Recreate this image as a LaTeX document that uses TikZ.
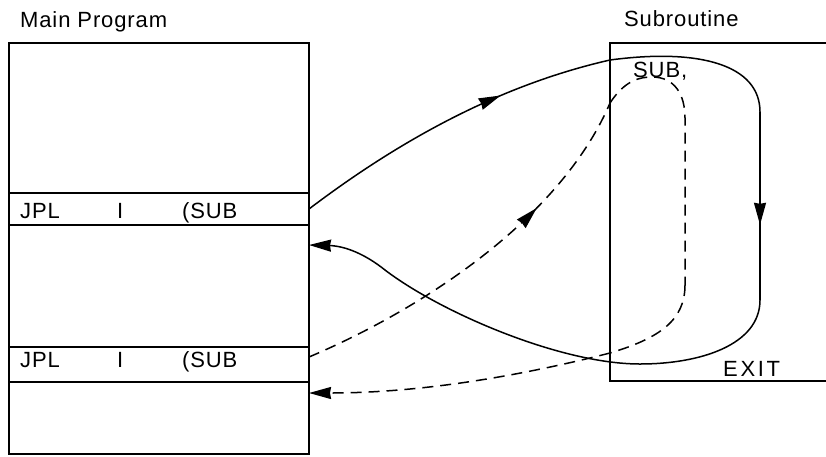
\documentclass[tikz,border=0pt]{standalone}
\usepackage{fontspec}
\setmainfont{Liberation Sans}[LetterSpace=4]
\usetikzlibrary{arrows.meta,decorations.markings}

\tikzset{
  box/.style={draw, line width=1.8pt, inner sep=0pt},
  lbl/.style={anchor=base west, inner sep=0pt, font=\fontsize{22}{26}\selectfont},
  flow/.style={line width=1.5pt},
  back/.style={flow, dash pattern=on 11pt off 7pt},
  tip/.style={-{Triangle[length=22pt,width=12pt,inset=1pt]}},
  midarrow/.style={postaction={decorate,decoration={markings,
    mark=at position #1 with {\arrow{Triangle[length=22pt,width=12pt,inset=1pt]}}}}}
}

\begin{document}
\begin{tikzpicture}[x=1pt,y=-1pt]
\useasboundingbox (0,0) rectangle (826,456);

% main program
\node[box, minimum width=300pt, minimum height=411pt] (main) at (159,248.5) {};
\node[box, minimum width=300pt, minimum height=32pt] (row1) at (159,209) {};
\node[box, minimum width=300pt, minimum height=35pt] (row2) at (159,364.5) {};
\node[lbl] (title1) at (20,27) {Main Program};
\node[lbl] (op1) at (20,218) {JPL};
\node[lbl] (ind1) at (117,218) {I};
\node[lbl] (arg1) at (182,218) {(SUB};
\node[lbl] (op2) at (20,367) {JPL};
\node[lbl] (ind2) at (117,367) {I};
\node[lbl] (arg2) at (182,367) {(SUB};

% subroutine
\draw[line width=1.8pt] (826,43) -- (610,43) -- (610,381) -- (826,381);
\node[lbl] (title2) at (624,26) {Subroutine};
\node[lbl] (entry) at (633,77) {SUB,};
\node[lbl, font=\fontsize{22}{26}\selectfont\addfontfeature{LetterSpace=12}] (exit) at (723,376) {EXIT};

\coordinate (call1) at (309,209);
\coordinate (ret1) at (309,245);
\coordinate (call2) at (309,357);
\coordinate (ret2) at (309,393);
\coordinate (in1) at (610,60);
\coordinate (r1) at (760,112);
\coordinate (r2) at (760,300);
\coordinate (out1) at (640,364);
\coordinate (in2) at (610,103);
\coordinate (d1) at (685,118);
\coordinate (d2) at (685,285);
\coordinate (out2) at (610,353);

% first call, solid
\draw[flow, midarrow=0.66] (call1) .. controls (400,140) and (500,85) .. (in1);
\draw[flow] (in1) .. controls (700,48) and (760,65) .. (r1);
\draw[flow, midarrow=0.6] (r1) -- (r2);
\draw[flow] (r2) .. controls (760,345) and (700,364) .. (out1);
\draw[flow, tip] (out1) .. controls (560,364) and (440,312) .. (385,270)
  .. controls (365,254) and (345,246) .. (ret1);

% second call, dashed
\draw[back, midarrow=0.68] (call2) .. controls (420,310) and (560,220) .. (in2);
\draw[back] (in2) .. controls (625,80) and (640,77) .. (652,77)
  .. controls (675,77) and (685,95) .. (d1) -- (d2);
\draw[back] (d2) .. controls (685,320) and (660,338) .. (out2);
\draw[back, tip] (out2) .. controls (520,376) and (420,393) .. (ret2);
\end{tikzpicture}
\end{document}
